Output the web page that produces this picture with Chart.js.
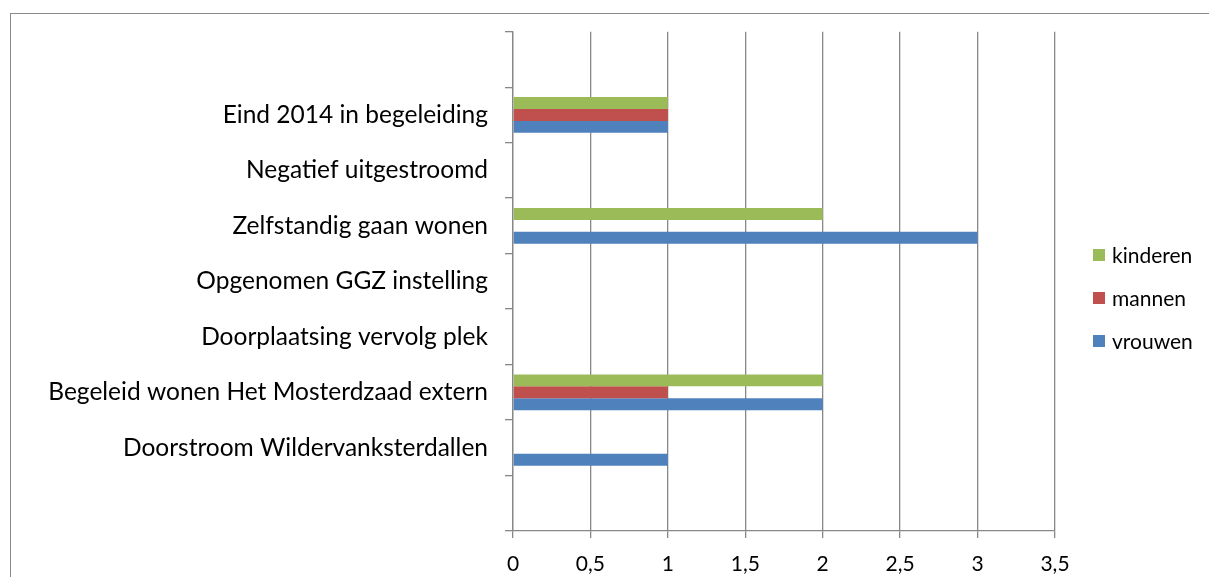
<!DOCTYPE html>
<html>
<head>
<meta charset="utf-8">
<script src="https://cdn.jsdelivr.net/npm/chart.js@4"></script>
<style>
  html, body { margin: 0; padding: 0; background: #fff; }
  #wrap { position: relative; width: 1209px; height: 577px; overflow: hidden; }
  #legend { position: absolute; left: 1093px; top: 243px; margin: 0; padding: 0; list-style: none;
            font-family: Lato, "Open Sans", sans-serif; font-size: 21px; color: #000; }
  #legend li { display: flex; align-items: center; height: 24px; line-height: 24px; margin-bottom: 19px; }
  #legend span { display: inline-block; width: 12px; height: 12px; margin-right: 7px; }
</style>
</head>
<body>
<div id="wrap">
  <canvas id="chart"></canvas>
  <ul id="legend"></ul>
</div>
<script>
const categories = [
  '',
  'Eind 2014 in begeleiding',
  'Negatief uitgestroomd',
  'Zelfstandig gaan wonen',
  'Opgenomen GGZ instelling',
  'Doorplaatsing vervolg plek',
  'Begeleid wonen Het Mosterdzaad extern',
  'Doorstroom Wildervanksterdallen',
  ''
];
const kinderen = [null, 1, null, 2, null, null, 2, null, null];
const mannen   = [null, 1, null, null, null, null, 1, null, null];
const vrouwen  = [null, 1, null, 3, null, null, 2, 1, null];
const xTickLabels = ['0', '0,5', '1', '1,5', '2', '2,5', '3', '3,5'];

const FONT = 'Lato, "Open Sans", sans-serif';
const GRID = '#888888';

const outerBorder = {
  id: 'outerBorder',
  beforeDraw(chart) {
    const c = chart.ctx;
    c.save();
    c.strokeStyle = '#8a8a8a';
    c.lineWidth = 1;
    c.strokeRect(10.5, 13.5, 2000, 2000);
    c.restore();
  }
};

const chart = new Chart(document.getElementById('chart'), {
  type: 'bar',
  data: {
    labels: categories,
    datasets: [
      { label: 'kinderen', data: kinderen, backgroundColor: '#9BBB59' },
      { label: 'mannen', data: mannen, backgroundColor: '#C0504D' },
      { label: 'vrouwen', data: vrouwen, backgroundColor: '#4F81BD' }
    ]
  },
  options: {
    indexAxis: 'y',
    responsive: true,
    maintainAspectRatio: false,
    animation: false,
    categoryPercentage: 0.645,
    barPercentage: 1,
    layout: { padding: { top: 30, right: 154 } },
    scales: {
      x: {
        min: 0,
        max: 3.5,
        ticks: {
          stepSize: 0.5,
          color: '#000',
          padding: 14,
          font: { family: FONT, size: 21 },
          callback: (v, i) => xTickLabels[i]
        },
        grid: { color: GRID, lineWidth: 1.3, tickLength: 7 },
        border: { color: GRID, width: 1.3 },
        afterFit(scale) { scale.height = 46; }
      },
      y: {
        ticks: {
          color: '#000',
          padding: 17,
          font: { family: FONT, size: 24.5 }
        },
        grid: { drawOnChartArea: false, color: GRID, lineWidth: 1.3, tickLength: 8, offset: true },
        border: { color: GRID, width: 1.3 },
        afterFit(scale) { scale.width = 513; }
      }
    },
    plugins: {
      legend: { display: false },
      tooltip: { enabled: false }
    }
  },
  plugins: [outerBorder]
});

// legend built from the chart's own datasets
const legend = document.getElementById('legend');
chart.data.datasets.forEach(ds => {
  const li = document.createElement('li');
  li.innerHTML = `<span style="background:${ds.backgroundColor}"></span>${ds.label}`;
  legend.appendChild(li);
});
</script>
</body>
</html>
